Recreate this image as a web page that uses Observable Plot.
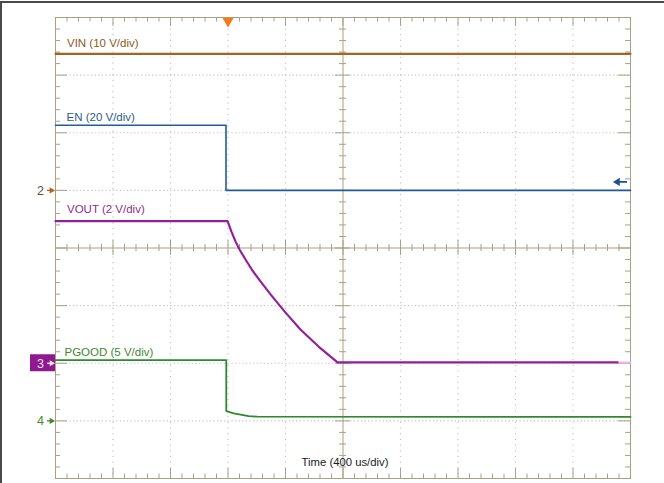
<!DOCTYPE html>
<html><head><meta charset="utf-8">
<script src="https://cdn.jsdelivr.net/npm/d3@7"></script>
<script src="https://cdn.jsdelivr.net/npm/@observablehq/plot@0.6"></script>
<style>
html,body{margin:0;padding:0;background:#fff;}
#wrap{position:relative;width:664px;height:483px;overflow:hidden;background:#fff;}
#border{position:absolute;left:0;top:1px;width:670px;height:490px;border-top:2px solid #4a4a4a;border-left:2px solid #4a4a4a;pointer-events:none;}
svg{display:block}
</style></head><body>
<div id="wrap"><div id="chart"></div><div id="border"></div></div>
<script>
// ---- scope settings ----
const channels = ["VIN", "EN", "VOUT", "PGOOD"];
const voltsPerDiv = [10, 20, 2, 5];
const groundDiv = [1, 1, -2, -3];        // channel reference level (divisions from centre)
const markerLabels = ["1", "2", "3", "4"];
const usPerDiv = 400;
const timeStart = -1200, timeEnd = 2800; // µs, trigger at 0

// ---- traces (time in µs, values in volts) ----
const vinTime   = [-1200, 2800];
const vinVolts  = [23.7, 23.7];
const enTime    = [-1200, -14, -14, 2800];
const enVolts   = [22.6, 22.6, 0, 0];
const voutTime  = [-1200, -3, 24, 52, 80, 122, 170, 226, 296, 393, 504, 630, 762, 2710];
const voutVolts = [4.93, 4.93, 4.57, 4.23, 3.95, 3.60, 3.22, 2.84, 2.39, 1.80, 1.17, 0.58, 0.03, 0.03];
const pgoodTime  = [-1200, -12, -12, 40, 144, 203, 2800];
const pgoodVolts = [5.27, 5.27, 0.85, 0.66, 0.42, 0.37, 0.34];

const times = [vinTime, enTime, voutTime, pgoodTime];
const volts = [vinVolts, enVolts, voutVolts, pgoodVolts];
const toDiv = (ch, v) => groundDiv[ch] + v / voltsPerDiv[ch];
const traces = channels.map((name, ch) => times[ch].map((t, i) => ({name, t, y: toDiv(ch, volts[ch][i])})));

// ---- styles ----
const traceColor = ["#a5631f", "#215d99", "#951f9b", "#2e8a2e"];
const labelColor = ["#8d5a22", "#2d5d8d", "#8d2d8d", "#3d8a2d"];
const traceWidth = [2.2, 1.6, 2.2, 1.8];
const labelDx = [11.5, 11, 11.5, 9];
const labelDy = [-10, -7.5, -11.5, -8];
const tan = "#a9a182";
const dotGray = "#c4c4c4";

// ---- graticule positions ----
const divX = d3.range(timeStart, timeEnd + 1, usPerDiv);
const minorX = d3.range(timeStart, timeEnd + 1, usPerDiv / 5).filter(t => (t - timeStart) % usPerDiv !== 0);
const divY = d3.range(-4, 5, 1);
const minorY = d3.range(-20, 21).filter(k => k % 5 !== 0).map(k => k / 5);
const centerX = (timeStart + timeEnd) / 2;
const innerX = divX.filter(t => t !== timeStart && t !== timeEnd && t !== centerX);
const innerY = divY.filter(v => v !== -4 && v !== 4 && v !== 0);

const labels = channels.map((name, ch) => ({ch, text: `${name} (${voltsPerDiv[ch]} V/div)`, y: traces[ch][0].y}));
const markers = [1, 2, 3].map(ch => ({ch, text: markerLabels[ch], y: groundDiv[ch]}));
const markerText = d => d.ch === 1 ? "#5e513c" : d.ch === 2 ? "#f6e2f6" : "#3d8a2d";
const markerArrow = d => d.ch === 1 ? "#b0651e" : d.ch === 2 ? "#f6e2f6" : "#3d8a2d";

const tickX = (data, y, top, bottom, w = 1) => Plot.ruleX(data, {x: d => d, y1: y, y2: y, insetTop: top, insetBottom: bottom, stroke: tan, strokeWidth: w});
const tickY = (data, x, left, right, w = 1) => Plot.ruleY(data, {y: d => d, x1: x, x2: x, insetLeft: left, insetRight: right, stroke: tan, strokeWidth: w});

const chart = Plot.plot({
  width: 664, height: 483,
  marginLeft: 55, marginRight: 34, marginTop: 17, marginBottom: 5,
  x: {domain: [timeStart, timeEnd], axis: null},
  y: {domain: [-4, 4], axis: null},
  style: {fontFamily: "'Liberation Sans', Arial, sans-serif", background: "transparent", overflow: "visible"},
  marks: [
    // dotted grid
    Plot.ruleX(innerX, {x: d => d, stroke: dotGray, strokeDasharray: "1.2,4.5", strokeWidth: 1.2}),
    Plot.ruleY(innerY, {y: d => d, stroke: dotGray, strokeDasharray: "1.2,2.4", strokeWidth: 1.2}),
    // centre cross
    Plot.ruleX([centerX], {x: d => d, stroke: tan}),
    Plot.ruleY([0], {y: d => d, stroke: tan}),
    // frame
    Plot.frame({stroke: tan}),
    // edge ticks
    tickX(minorX, 4, 0, -4.5),
    tickX(divX, 4, 0, -9),
    tickX(minorX, -4, -4.5, 0),
    tickX(divX, -4, -10, 0),
    tickY(minorY, timeStart, 0, -5),
    tickY(divY, timeStart, 0, -12),
    tickY(minorY, timeEnd, -5, 0),
    tickY(divY, timeEnd, -12, 0),
    // centre ticks
    tickX(minorX, 0, -3.5, -3.5),
    tickX(divX, 0, -7.5, -7.5),
    tickY(minorY, centerX, -3.5, -3.5),
    tickY(divY, centerX, -7.5, -7.5),
    // traces
    Plot.line([{t: voutTime[voutTime.length - 1], y: toDiv(2, voutVolts[voutVolts.length - 1])}, {t: timeEnd, y: toDiv(2, voutVolts[voutVolts.length - 1])}],
      {x: "t", y: "y", stroke: "#eab8ea", strokeWidth: 2}),
    ...traces.map((d, ch) => Plot.line(d, {x: "t", y: "y", stroke: traceColor[ch], strokeWidth: traceWidth[ch], curve: "linear"})),
    // channel labels
    ...labels.map(l => Plot.text([l], {x: timeStart, y: "y", text: "text", dx: labelDx[l.ch], dy: labelDy[l.ch], textAnchor: "start", fill: labelColor[l.ch], fontSize: 11.5})),
    // trigger marker
    Plot.dot([0], {x: d => d, y: 4, symbol: "triangle", rotate: 180, r: 4.2, fill: "#f07a1a", dy: 3.5}),
    // channel reference markers
    Plot.rect([markers[1]], {x1: timeStart, x2: timeStart, y1: "y", y2: "y", insetLeft: -25, insetRight: 0, insetTop: -8.5, insetBottom: -8.5, fill: "#8e1a8e"}),
    Plot.text(markers, {x: timeStart, y: "y", text: "text", dx: -15, dy: 0.5, textAnchor: "middle", fontSize: 12.5, fill: markerText}),
    Plot.ruleY(markers, {y: "y", x1: timeStart, x2: timeStart, insetLeft: -8, insetRight: 3, stroke: markerArrow, strokeWidth: 1.3}),
    Plot.dot(markers, {x: timeStart, y: "y", dx: -4, symbol: "triangle", rotate: 90, r: 2.3, fill: markerArrow}),
    // channel 2 offset arrow on right
    Plot.ruleY([markers[0]], {y: "y", x1: timeEnd, x2: timeEnd, insetLeft: -13, insetRight: 3, dy: -8.5, stroke: "#1f4f9a", strokeWidth: 1.8}),
    Plot.dot([markers[0]], {x: timeEnd, y: "y", dx: -13, dy: -8.5, symbol: "triangle", rotate: -90, r: 3, fill: "#1f4f9a"}),
    // timebase label
    Plot.text([`Time (${usPerDiv} us/div)`], {x: centerX, frameAnchor: "bottom", text: d => d, dx: 2, dy: -13, textAnchor: "middle", fill: "#1a1a1a", fontSize: 11.3})
  ]
});
document.getElementById("chart").appendChild(chart);
</script>
</body></html>
